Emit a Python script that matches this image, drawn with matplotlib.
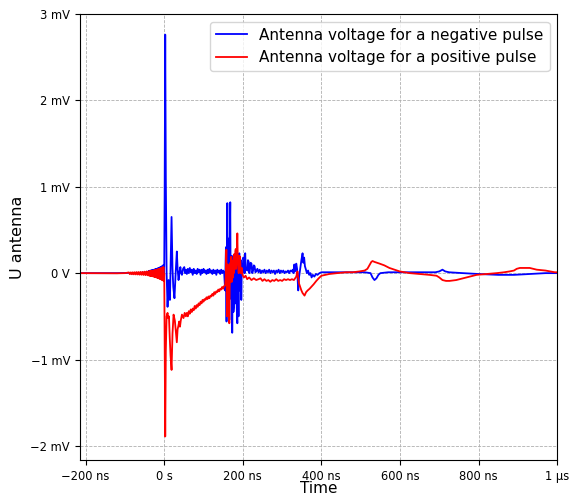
import matplotlib
matplotlib.use("Agg")
import matplotlib.pyplot as plt
import numpy as np
from matplotlib.ticker import EngFormatter, FixedLocator

# ---------------- data (time in ns, voltage in mV) ----------------
# Negative pulse (blue)
neg_pre_t = [-215, -120, -90, -80, -70, -62.5, -60, -57.5, -55, -52.5, -50, -47.5, -45, -42.5] + list(range(-40, 0))
neg_pre_v = [0.0, 0.0, 0.003, -0.004, 0.005, -0.006, 0.008, -0.009, 0.010, -0.011, 0.012, -0.014, 0.016, -0.018,
             0.025, -0.02, 0.027, -0.022, 0.029, -0.023, 0.031, -0.025, 0.033, -0.026,
             0.035, -0.028, 0.038, -0.03, 0.04, -0.031, 0.043, -0.033, 0.046, -0.035,
             0.049, -0.036, 0.052, -0.038, 0.056, -0.04, 0.06, -0.041, 0.064, -0.043,
             0.068, -0.044, 0.073, -0.045, 0.078, -0.045, 0.085, -0.04, 0.095, -0.03]
neg_main_t = [0, 1, 2.5, 4, 6, 8.4, 11, 14.5, 18.6, 21, 23, 26, 29, 32, 34, 36.4, 38.5, 41, 43, 45, 48, 51, 53]
neg_main_v = [0.11, 0.9, 2.76, 1.1, 0.0, -0.39, -0.08, -0.31, 0.65, 0.05, -0.16, -0.29, 0.0, 0.25, 0.05, -0.08,
              0.0, 0.07, 0.0, -0.02, 0.05, 0.07, 0.0]
neg_flat1_t = [55, 57.5, 60, 62.5, 65, 67.5, 70, 72.5, 75, 77.5, 80, 82.5, 85, 87.5, 90, 92.5, 95, 97.5, 100,
               102.5, 105, 107.5, 110, 112.5, 115, 117.5, 120, 122.5, 125, 127.5, 130, 132.5, 135, 137.5,
               140, 142.5, 145, 147.5, 150, 152.5]
neg_flat1_v = [0.04, -0.01, 0.05, 0.0, 0.06, 0.01, 0.04, -0.02, 0.05, 0.0, 0.03, -0.01, 0.05, 0.01, 0.04,
               -0.02, 0.04, 0.0, 0.05, 0.01, 0.03, -0.01, 0.04, 0.0, 0.05, 0.01, 0.03, -0.01, 0.04, 0.0,
               0.03, -0.02, 0.04, 0.01, 0.03, -0.01, 0.04, 0.0, 0.03, 0.0]
neg_chaos_t = [155, 156, 157, 158.5, 159.5, 160.5, 161.5, 163, 164, 165.6,
               166.5, 168, 169, 170.7, 172, 173, 174, 175, 176, 177,
               178, 179, 180, 181, 182, 183, 184.5, 186, 187, 188,
               189, 190, 191, 192, 193.5, 195, 196, 197.5, 199, 201,
               203, 204.5, 206, 207.5, 209, 211.5, 213, 215, 216.5, 218,
               220, 222, 224, 226, 228, 230, 232, 234, 237]
neg_chaos_v = [-0.2, 0.1, 0.3, -0.56, 0.2, 0.81, -0.1, -0.3, 0.4, -0.54,
               0.3, 0.82, -0.2, -0.3, 0.2, -0.69, 0.05, 0.1, -0.45, -0.4,
               0.15, 0.0, -0.3, -0.35, 0.2, 0.1, -0.4, -0.58, 0.1, -0.1,
               -0.5, 0.1, 0.23, -0.2, -0.1, 0.15, -0.31, 0.1, 0.0, 0.18,
               0.15, 0.0, 0.23, 0.05, 0.05, 0.03, 0.15, 0.13, 0.0, 0.04,
               0.12, 0.11, 0.0, 0.03, 0.09, 0.08, 0.01, 0.02, 0.05]
neg_flat2_t = [240, 243, 246, 249, 252, 255, 258, 261, 264, 267, 270, 273, 276, 279, 282, 285, 288, 291, 294,
               297, 300, 303, 306, 309, 312, 315, 318, 321, 324]
neg_flat2_v = [0.01, 0.04, 0.0, 0.03, 0.01, 0.04, 0.0, 0.03, 0.01, 0.04, 0.0, 0.03, 0.01, 0.03, -0.01, 0.03,
               0.01, 0.04, 0.0, 0.03, 0.01, 0.03, 0.0, 0.02, 0.01, 0.03, 0.0, 0.03, 0.02]
neg_burst_t = [327, 329, 331, 333, 336, 338, 341, 343, 346, 349, 352, 354, 356, 358, 360, 363, 366, 369, 372,
               375, 378, 382, 386, 390, 395, 400]
neg_burst_v = [0.04, 0.0, 0.1, 0.02, 0.11, 0.05, -0.2, -0.05, 0.05, 0.15, 0.23, 0.12, 0.18, 0.08, 0.05, 0.0,
               0.03, -0.02, 0.0, -0.05, -0.02, -0.04, -0.01, -0.02, 0.0, 0.01]
neg_tail_t = [420, 450, 480, 510, 525, 530, 535, 540, 545, 550, 570, 600, 650, 690, 700, 708, 715, 725, 760,
              800, 850, 890, 930, 970, 1000]
neg_tail_v = [0.01, 0.01, 0.01, 0.01, 0.0, -0.05, -0.08, -0.06, -0.02, 0.0, 0.01, 0.01, 0.01, 0.01, 0.02,
              0.04, 0.02, 0.01, 0.0, -0.01, -0.02, -0.02, -0.01, 0.0, 0.0]

# Positive pulse (red)
pos_pre_t = [-215, -120, -100, -90, -87.5, -85, -82.5, -80, -77.5, -75, -72.5, -70, -67.5, -65, -62.5, -60,
             -57.5, -55, -52.5, -50, -47.5, -45, -42.5] + list(range(-40, 0))
pos_pre_v = [0.0, -0.002, 0.0, 0.008, -0.012, 0.009, -0.013, 0.010, -0.014, 0.011, -0.015, 0.012, -0.016,
             0.013, -0.018, 0.014, -0.019, 0.015, -0.021, 0.017, -0.023, 0.019, -0.025,
             0.02, -0.028, 0.021, -0.03, 0.022, -0.031, 0.024, -0.033, 0.025, -0.035, 0.027, -0.037,
             0.029, -0.039, 0.031, -0.042, 0.033, -0.045, 0.035, -0.048, 0.038, -0.051, 0.041, -0.054,
             0.044, -0.058, 0.047, -0.062, 0.05, -0.066, 0.054, -0.07, 0.058, -0.075, 0.062, -0.08,
             0.066, -0.085, 0.07, -0.09]
pos_main_t = [0, 1, 2.5, 4, 6, 8.4, 10, 12, 14, 16, 18.6, 21, 23.7, 27, 30, 32, 34, 36.4, 38, 40, 42, 45,
              49, 52, 55]
pos_main_v = [-0.01, -0.7, -1.89, -0.9, -0.5, -0.46, -0.52, -0.5, -0.75, -0.95, -1.12, -0.7, -0.48, -0.55,
              -0.7, -0.8, -0.65, -0.6, -0.56, -0.62, -0.55, -0.48, -0.52, -0.46, -0.5]
pos_decay_t = [57.5, 60, 62.5, 65, 67.5, 70, 72.5, 75, 77.5, 80, 82.5, 85, 87.5, 90, 92.5, 95, 97.5, 100,
               102.5, 105, 107.5, 110, 112.5, 115, 117.5, 120, 122.5, 125, 127.5, 130, 132.5, 135, 137.5,
               140, 142.5, 145, 147.5, 150, 152.5]
pos_decay_v = [-0.46, -0.5, -0.44, -0.47, -0.42, -0.45, -0.41, -0.43, -0.38, -0.41, -0.37, -0.39, -0.35,
               -0.37, -0.33, -0.35, -0.31, -0.33, -0.3, -0.31, -0.28, -0.3, -0.27, -0.29, -0.26, -0.27,
               -0.24, -0.26, -0.22, -0.24, -0.21, -0.22, -0.19, -0.21, -0.18, -0.19, -0.16, -0.18, -0.15]
pos_chaos_t = [155, 156.5, 158, 159, 160, 161, 162, 163, 164, 165.6,
               167, 168.5, 169.5, 170.7, 172, 173, 174, 175, 176, 177,
               178, 179, 180, 181, 182, 183, 184, 185, 186, 187,
               188, 189.5, 191, 192, 193, 194.5, 196, 197.5, 199, 203,
               207, 211, 216, 222, 228, 234, 240]
pos_chaos_v = [-0.14, -0.05, 0.27, -0.2, -0.5, 0.1, 0.1, -0.2, -0.3, -0.58,
               0.0, 0.12, -0.1, 0.19, -0.1, 0.1, 0.05, -0.05, 0.15, 0.0,
               0.22, 0.1, 0.05, 0.25, 0.28, 0.05, 0.15, 0.3, 0.46, 0.2,
               0.1, 0.0, 0.2, 0.05, 0.19, 0.0, 0.03, 0.06, -0.02, -0.05,
               -0.03, -0.07, -0.05, -0.08, -0.06, -0.08, -0.07]
pos_flat_t = [245, 250, 255, 260, 265, 270, 275, 280, 285, 290, 295, 300, 305, 310, 315, 320, 325]
pos_flat_v = [-0.06, -0.09, -0.07, -0.09, -0.08, -0.1, -0.08, -0.09, -0.07, -0.09, -0.08, -0.09, -0.07,
              -0.08, -0.07, -0.08, -0.07]
pos_burst_t = [330, 333, 336, 339, 341, 343, 346, 349, 352, 357, 361, 365, 370, 374, 380, 387, 393, 400,
               410, 420]
pos_burst_v = [-0.08, -0.06, -0.04, 0.02, -0.06, -0.12, -0.16, -0.2, -0.23, -0.26, -0.22, -0.2, -0.18,
               -0.16, -0.13, -0.09, -0.06, -0.03, -0.02, -0.01]
pos_tail_t = [440, 463, 480, 497, 510, 517, 522, 527, 530, 535, 548, 560, 573, 586, 599, 625, 650, 675,
              693, 700, 708, 717, 726, 743, 760, 778, 795, 820, 846, 865, 879, 890, 897, 905, 917, 930,
              948, 970, 994, 1000]
pos_tail_v = [0.0, 0.01, 0.01, 0.02, 0.03, 0.05, 0.09, 0.13, 0.14, 0.13, 0.11, 0.09, 0.06, 0.04, 0.02,
              0.0, -0.01, -0.02, -0.03, -0.05, -0.08, -0.09, -0.09, -0.08, -0.06, -0.04, -0.02, -0.01,
              0.0, 0.01, 0.02, 0.03, 0.05, 0.06, 0.06, 0.06, 0.04, 0.03, 0.01, 0.01]

series_labels = ["Antenna voltage for a negative pulse", "Antenna voltage for a positive pulse"]
x_ticks_ns = [-200, 0, 200, 400, 600, 800, 1000]
y_ticks_mv = [-2, -1, 0, 1, 2, 3]

neg_t = np.concatenate([neg_pre_t, neg_main_t, neg_flat1_t, neg_chaos_t, neg_flat2_t, neg_burst_t, neg_tail_t])
neg_v = np.concatenate([neg_pre_v, neg_main_v, neg_flat1_v, neg_chaos_v, neg_flat2_v, neg_burst_v, neg_tail_v])
pos_t = np.concatenate([pos_pre_t, pos_main_t, pos_decay_t, pos_chaos_t, pos_flat_t, pos_burst_t, pos_tail_t])
pos_v = np.concatenate([pos_pre_v, pos_main_v, pos_decay_v, pos_chaos_v, pos_flat_v, pos_burst_v, pos_tail_v])

# ---------------- plot ----------------
fig = plt.figure(figsize=(5.78, 4.96), dpi=100)
ax = fig.add_axes([0.138, 0.073, 0.826, 0.899])

ax.plot(neg_t * 1e-9, neg_v * 1e-3, color="blue", lw=1.3, label=series_labels[0])
ax.plot(pos_t * 1e-9, pos_v * 1e-3, color="red", lw=1.3, label=series_labels[1])

ax.set_xlim(-215e-9, 1000e-9)
ax.set_ylim(-2.16e-3, 3e-3)
ax.xaxis.set_major_locator(FixedLocator(np.array(x_ticks_ns) * 1e-9))
ax.yaxis.set_major_locator(FixedLocator(np.array(y_ticks_mv) * 1e-3))
ax.xaxis.set_major_formatter(EngFormatter(unit="s"))
ax.yaxis.set_major_formatter(EngFormatter(unit="V"))
ax.tick_params(labelsize=8.3)
ax.grid(True, linestyle="--", linewidth=0.6, color="#b0b0b0")
ax.set_xlabel("Time", fontsize=11, labelpad=-1)
ax.set_ylabel("U antenna", fontsize=11.5)
ax.legend(loc="upper right", fontsize=11)

fig.savefig("out.png", dpi=100)
